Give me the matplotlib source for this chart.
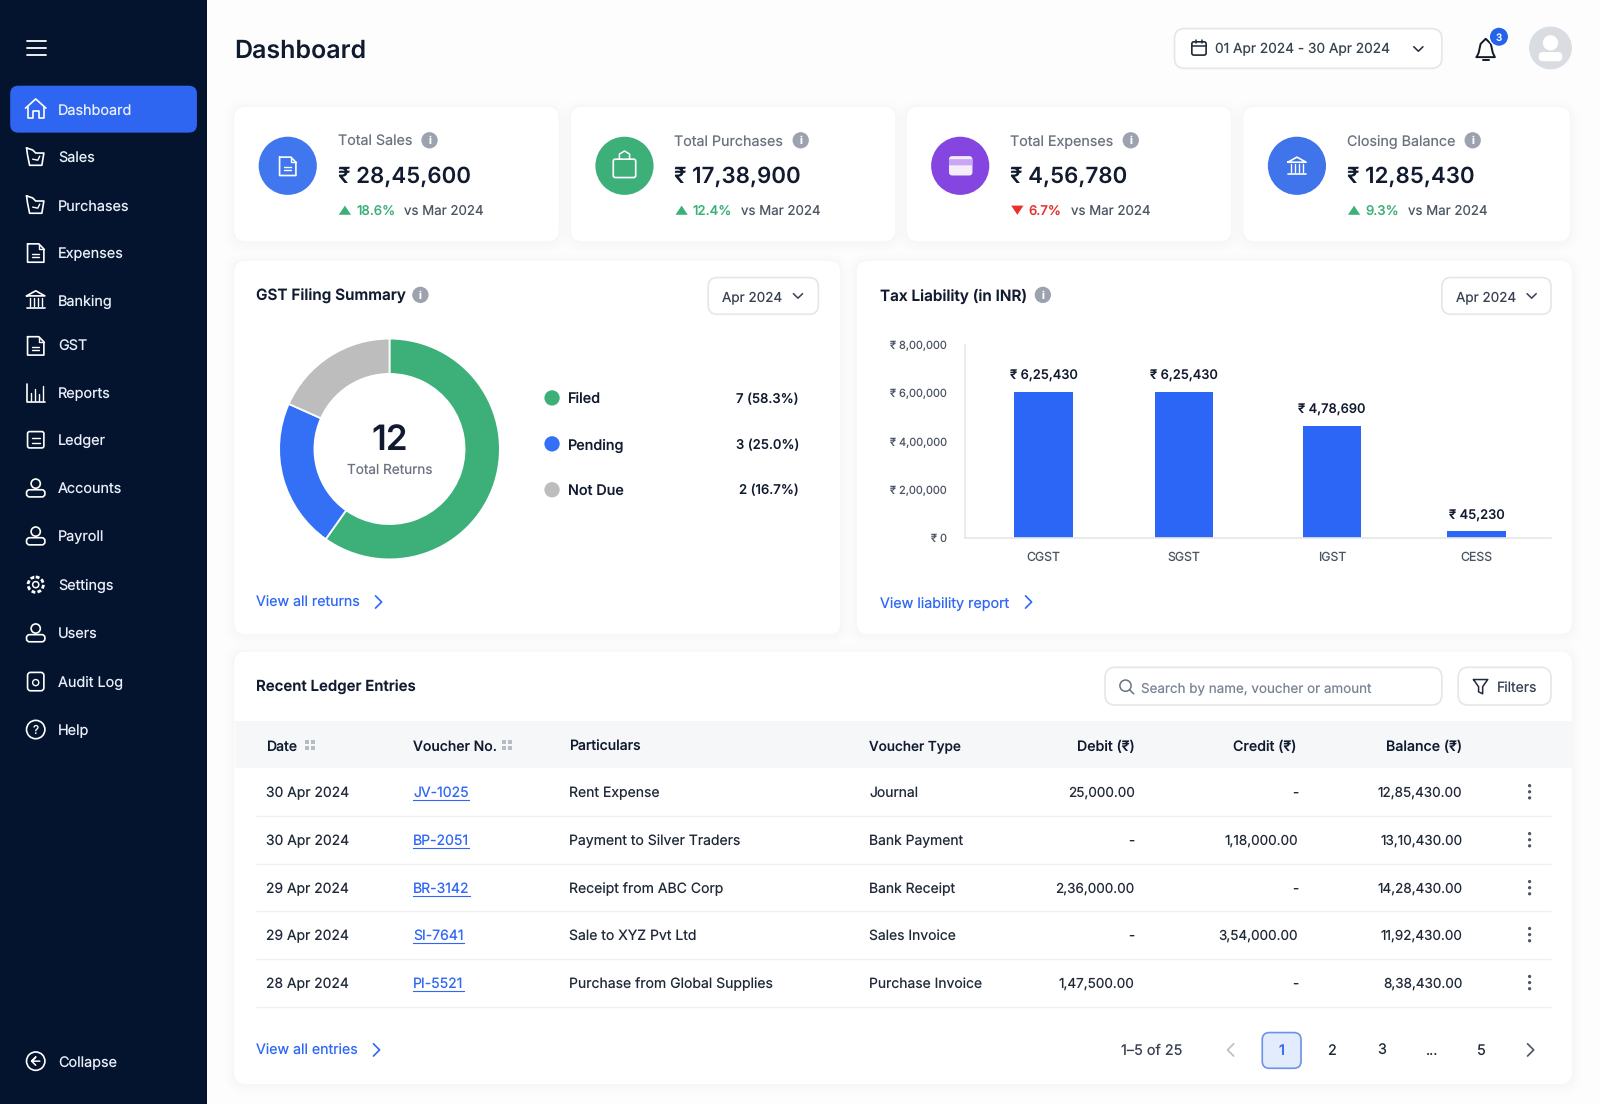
import matplotlib
matplotlib.use("Agg")
import matplotlib.pyplot as plt
from matplotlib.patches import FancyBboxPatch, Circle, Rectangle, Polygon

plt.rcParams["font.family"] = ["Inter", "Noto Sans", "DejaVu Sans"]
plt.rcParams["text.hinting"] = "none"
plt.rcParams["text.hinting_factor"] = 1

# data
nav_items = ["Dashboard", "Sales", "Purchases", "Expenses", "Banking", "GST", "Reports",
             "Ledger", "Accounts", "Payroll", "Settings", "Users", "Audit Log", "Help"]
kpi_titles = ["Total Sales", "Total Purchases", "Total Expenses", "Closing Balance"]
kpi_values = ["₹ 28,45,600", "₹ 17,38,900", "₹ 4,56,780", "₹ 12,85,430"]
kpi_deltas = ["18.6%", "12.4%", "6.7%", "9.3%"]
kpi_up = [True, True, False, True]

gst_labels = ["Filed", "Pending", "Not Due"]
gst_shares = [59.8, 21.9, 18.3]  # slice sizes as drawn in the picture
gst_text = ["7 (58.3%)", "3 (25.0%)", "2 (16.7%)"]

tax_names = ["CGST", "SGST", "IGST", "CESS"]
tax_heights = [606000, 606000, 465000, 29000]  # as drawn in the picture
tax_labels = ["₹ 6,25,430", "₹ 6,25,430", "₹ 4,78,690", "₹ 45,230"]
tax_ticks = [0, 200000, 400000, 600000, 800000]
tax_ticklabels = ["₹ 0", "₹ 2,00,000", "₹ 4,00,000", "₹ 6,00,000", "₹ 8,00,000"]

dates = ["30 Apr 2024", "30 Apr 2024", "29 Apr 2024", "29 Apr 2024", "28 Apr 2024"]
vouchers = ["JV-1025", "BP-2051", "BR-3142", "SI-7641", "PI-5521"]
particulars = ["Rent Expense", "Payment to Silver Traders", "Receipt from ABC Corp",
               "Sale to XYZ Pvt Ltd", "Purchase from Global Supplies"]
voucher_types = ["Journal", "Bank Payment", "Bank Receipt", "Sales Invoice", "Purchase Invoice"]
debits = ["25,000.00", "-", "2,36,000.00", "-", "1,47,500.00"]
credits = ["-", "1,18,000.00", "-", "3,54,000.00", "-"]
balances = ["12,85,430.00", "13,10,430.00", "14,28,430.00", "11,92,430.00", "8,38,430.00"]

NAVY = "#04142F"
BLUE = "#2F68F5"
GREEN = "#3DB07A"
GREY = "#BDBDBD"
INK = "#111A2E"
MUTED = "#6B7280"
LINE = "#E3E6EB"
W, H = 1568, 1082

fig = plt.figure(figsize=(16, 11.04), dpi=100, facecolor="#FDFDFE")
ui = fig.add_axes([0, 0, 1, 1])
ui.set_xlim(0, W)
ui.set_ylim(H, 0)
ui.axis("off")


def px(size):
    return size * 0.72


def label(x, y, s, size=14, color=INK, weight="normal", ha="left", z=5):
    return ui.text(x, y, s, fontsize=px(size), color=color, fontweight=weight, ha=ha,
                   va="center_baseline", zorder=z)


def text_width(t):
    return t.get_window_extent(fig.canvas.get_renderer()).width * W / 1600


def box(x0, y0, x1, y1, r=8, fc="white", ec="none", lw=1.0, z=2, alpha=None):
    p = FancyBboxPatch((x0, y0), x1 - x0, y1 - y0, boxstyle=f"round,pad=0,rounding_size={r}",
                       fc=fc, ec=ec, lw=lw, zorder=z, alpha=alpha)
    ui.add_patch(p)
    return p


def card(x0, y0, x1, y1):
    for g in [9, 7, 5, 3, 1.5]:
        box(x0 - g, y0 - g + 2, x1 + g, y1 + g + 2, r=12 + g, fc="#1B2A4A", alpha=0.005, z=1)
    box(x0, y0, x1, y1, r=12, fc="white", ec="#F5F6F8", lw=0.7, z=2)


def stroke(xs, ys, color="white", lw=1.2, z=6):
    ui.plot(xs, ys, color=color, lw=lw, zorder=z, solid_capstyle="round", solid_joinstyle="round")


def chevron_down(x, y, color="#374151"):
    stroke([x - 4.5, x, x + 4.5], [y - 2.2, y + 2.2, y - 2.2], color, 1.1)


def chevron_right(x, y, color=BLUE):
    stroke([x - 3, x + 3, x - 3], [y - 6, y, y + 6], color, 1.2)


def info(x, y):
    ui.add_patch(Circle((x, y), 8, fc="#9CA3AF", ec="none", zorder=5))
    label(x, y, "i", 10.5, "white", "bold", "center", 6)


def icon_house(x, y, c="white"):
    stroke([x - 10, x, x + 10], [y - 1, y - 10, y - 1], c)
    stroke([x - 8, x - 8, x - 3, x - 3, x + 3, x + 3, x + 8, x + 8],
           [y - 2, y + 9, y + 9, y + 2, y + 2, y + 9, y + 9, y - 2], c)


def icon_cart(x, y, c="white"):
    stroke([x - 9, x - 3, x, x + 8, x + 6, x - 6, x - 8, x - 9],
           [y - 9, y - 7, y - 4, y - 4, y + 8, y + 8, y - 2, y - 9], c)
    stroke([x - 3, x + 2, x + 4], [y + 2, y + 3, y - 1], c, 1.0)


def icon_doc(x, y, c="white"):
    stroke([x - 8, x + 3, x + 8, x + 8, x - 8, x - 8],
           [y - 9, y - 9, y - 4, y + 9, y + 9, y - 9], c)
    stroke([x + 3, x + 3, x + 8], [y - 9, y - 4, y - 4], c, 1.0)
    stroke([x - 4, x + 3], [y + 1, y + 1], c, 1.0)
    stroke([x - 4, x + 3], [y + 4, y + 4], c, 1.0)


def icon_bank(x, y, c="white"):
    stroke([x - 9, x, x + 9, x - 9], [y - 4, y - 9, y - 4, y - 4], c)
    for dx in [-6, -2, 2, 6]:
        stroke([x + dx, x + dx], [y - 2, y + 6], c, 1.0)
    stroke([x - 9, x + 9], [y + 8, y + 8], c)


def icon_reports(x, y, c="white"):
    stroke([x - 9, x - 9, x + 9], [y - 9, y + 9, y + 9], c)
    for dx, top in [(-5, 0), (-1, -4), (3, 1), (7, -7)]:
        stroke([x + dx, x + dx], [y + 8, y + top], c, 1.0)


def icon_ledger(x, y, c="white"):
    box(x - 8, y - 8, x + 8, y + 8, r=2, fc="none", ec=c, lw=1.2, z=6)
    stroke([x - 4, x + 4], [y - 2, y - 2], c, 1.0)
    stroke([x - 4, x + 4], [y + 3, y + 3], c, 1.0)


def icon_people(x, y, c="white"):
    ui.add_patch(Circle((x, y - 4), 4.5, fc="none", ec=c, lw=1.2, zorder=6))
    box(x - 9, y + 2, x + 9, y + 9, r=3, fc="none", ec=c, lw=1.2, z=6)


def icon_gear(x, y, c="white"):
    ui.add_patch(Circle((x, y), 7.5, fc="none", ec=c, lw=2.0, ls=(0, (1.4, 0.8)), zorder=6))
    ui.add_patch(Circle((x, y), 3, fc="none", ec=c, lw=1.1, zorder=6))


def icon_help(x, y, c="white"):
    ui.add_patch(Circle((x, y), 9, fc="none", ec=c, lw=1.2, zorder=6))
    label(x, y, "?", 12, c, "normal", "center", 6)


def icon_audit(x, y, c="white"):
    box(x - 8, y - 9, x + 8, y + 9, r=3, fc="none", ec=c, lw=1.2, z=6)
    ui.add_patch(Circle((x, y + 1), 3, fc="none", ec=c, lw=1.0, zorder=6))


# sidebar
ui.add_patch(Rectangle((0, 0), 203, H, fc=NAVY, ec="none", zorder=1))
for yy in [40.5, 47, 53.5]:
    stroke([26, 45], [yy, yy], "white", 1.3)
box(10, 84, 193, 130, r=8, fc="#2E66F2", z=2)

nav_y = [107, 154, 201, 248, 294, 339, 385, 431, 478, 525, 573, 620, 668, 715]
nav_icons = [icon_house, icon_cart, icon_cart, icon_doc, icon_bank, icon_doc, icon_reports,
             icon_ledger, icon_people, icon_people, icon_gear, icon_people, icon_audit, icon_help]
for name, yy, draw in zip(nav_items, nav_y, nav_icons):
    draw(35, yy)
    label(57, yy, name, 14.4, "#EAF0FA", "normal")
ui.add_patch(Circle((35, 1040), 9, fc="none", ec="white", lw=1.2, zorder=6))
stroke([39, 31, 35, 31, 35], [1040, 1040, 1036, 1040, 1044], "white", 1.1)
label(57, 1040, "Collapse", 14.4, "#EAF0FA", "normal")

# header
label(229, 48, "Dashboard", 25, INK, "semibold")
box(1151, 28, 1413, 67, r=10, fc="white", ec=LINE, lw=1.2)
box(1168, 41, 1182, 54, r=2, fc="none", ec="#1F2937", lw=1.2, z=6)
stroke([1168, 1182], [45, 45], "#1F2937", 1.1)
stroke([1172, 1172], [39, 42], "#1F2937", 1.1)
stroke([1178, 1178], [39, 42], "#1F2937", 1.1)
label(1191, 47, "01 Apr 2024 - 30 Apr 2024", 13.7, "#374151")
chevron_down(1390, 48, "#1F2937")
stroke([1447, 1449, 1451, 1456, 1461, 1463, 1465, 1447],
       [56, 52, 43, 38, 43, 52, 56, 56], "#111827", 1.4)
stroke([1453, 1459], [59, 59], "#111827", 1.4)
ui.add_patch(Circle((1469, 36), 9.5, fc="#2563EB", ec="white", lw=1, zorder=7))
label(1469, 36, "3", 10, "white", "medium", "center", 8)
ui.add_patch(Circle((1519.5, 47), 21, fc="#D9DCE0", ec="none", zorder=3))
ui.add_patch(Circle((1519.5, 42), 7.5, fc="white", ec="none", zorder=4))
box(1508, 51, 1531, 60, r=4, fc="white", z=4)

# kpi cards
kpi_x = [229, 559, 888, 1218]
kpi_right = [548, 878, 1207, 1539]
kpi_circle = ["#4177EE", GREEN, "#8445E0", "#3F74EA"]
for i in range(4):
    x0 = kpi_x[i]
    card(x0, 104, kpi_right[i], 237)
    cx = x0 + 53
    ui.add_patch(Circle((cx, 162.5), 28.5, fc=kpi_circle[i], ec="none", zorder=3))
    tx = x0 + 102
    t = label(tx, 137.5, kpi_titles[i], 14.3, MUTED)
    info(tx + text_width(t) + 17, 137.5)
    label(tx, 171, kpi_values[i], 22.3, INK, "semibold")
    col = GREEN if kpi_up[i] else "#E5322D"
    if kpi_up[i]:
        ui.add_patch(Polygon([(tx + 1, 210.5), (tx + 13, 210.5), (tx + 7, 201.5)], fc=col, ec="none", zorder=5))
    else:
        ui.add_patch(Polygon([(tx + 1, 201.5), (tx + 13, 201.5), (tx + 7, 210.5)], fc=col, ec="none", zorder=5))
    d = label(tx + 18, 205.5, kpi_deltas[i], 13.2, col, "medium")
    label(tx + 18 + text_width(d) + 9, 205.5, "vs Mar 2024", 13.3, "#4B5563")

# small glyphs inside the kpi circles
icon_doc(282, 163)
box(601, 156, 623, 174, r=2, fc="none", ec="white", lw=1.2, z=6)
stroke([607, 607, 612, 617, 617], [156, 151, 148, 151, 156], "white", 1.1)
box(930, 153, 953, 172, r=3, fc="white", alpha=0.9, z=6)
box(930, 156, 953, 162, r=1, fc="#C9A6F5", z=7)
icon_bank(1271, 163)

# gst panel
card(229, 255, 824, 622)
label(251, 289, "GST Filing Summary", 15.3, INK, "semibold")
info(412, 289)
box(694, 272, 802, 308, r=9, fc="white", ec=LINE, lw=1.2)
label(708, 290, "Apr 2024", 13.5, "#374151")
chevron_down(782, 290)
label(251, 590, "View all returns", 14.2, BLUE)
chevron_right(371, 590)

gst_colors = [GREEN, "#3370F5", GREY]
legend_y = [390, 435, 480]
for name, txt, c, yy in zip(gst_labels, gst_text, gst_colors, legend_y):
    ui.add_patch(Circle((541, yy), 7.5, fc=c, ec="none", zorder=5))
    label(557, yy, name, 14.4, INK, "medium")
    label(783, yy, txt, 13.2, INK, "medium", "right")

# donut, real axes
donut = fig.add_axes([(389.5 - 111.5) / 1600, 1 - (449 + 111.5) / 1104, 223 / 1600, 223 / 1104])
donut.pie(gst_shares, colors=gst_colors, startangle=90, counterclock=False, radius=1.0,
          wedgeprops=dict(width=0.32, edgecolor="white", linewidth=1.3))
donut.set_xlim(-1.01, 1.01)
donut.set_ylim(-1.01, 1.01)
donut.patch.set_alpha(0)
donut.text(0, 0.07, "12", ha="center", va="center", fontsize=px(35), fontweight="semibold", color=INK)
donut.text(0, -0.19, "Total Returns", ha="center", va="center", fontsize=px(13.6), color=MUTED)

# tax panel
card(839, 255, 1541, 622)
label(862, 289, "Tax Liability (in INR)", 15.3, INK, "semibold")
info(1022, 289)
box(1413, 272, 1520, 308, r=9, fc="white", ec=LINE, lw=1.2)
label(1427, 290, "Apr 2024", 13.5, "#374151")
chevron_down(1501, 290)
label(862, 590, "View liability report", 14.3, BLUE)
chevron_right(1008, 590)

bars = fig.add_axes([965 / 1600, 1 - 538 / 1104, (1551 - 965) / 1600, (538 - 345) / 1104])
bar_x = [0, 0.974, 2, 3]
bars.bar(bar_x, tax_heights, width=0.405, color="#2C66F6")
bars.set_xlim(-0.544, 3.517)
bars.set_ylim(0, 800000)
bars.patch.set_alpha(0)
bars.set_xticks(bar_x, tax_names)
bars.set_yticks(tax_ticks, tax_ticklabels)
bars.tick_params(axis="x", length=0, pad=10, labelsize=px(12.3), labelcolor="#4B5563")
bars.tick_params(axis="y", length=0, pad=13, labelsize=px(11), labelcolor="#4B5563")
for s in ["top", "right"]:
    bars.spines[s].set_visible(False)
for s in ["left", "bottom"]:
    bars.spines[s].set_color("#E5E7EB")
    bars.spines[s].set_linewidth(1.2)
for xx, h, txt in zip(bar_x, tax_heights, tax_labels):
    bars.annotate(txt, (xx, h), xytext=(0, 11), textcoords="offset points", ha="center",
                  va="center", fontsize=px(13), color=INK, fontweight="medium", annotation_clip=False)

# ledger table
card(229, 638, 1541, 1063)
label(251, 671, "Recent Ledger Entries", 15, INK, "semibold")
box(1083, 654, 1413, 691, r=10, fc="white", ec=LINE, lw=1.2)
ui.add_patch(Circle((1103, 672), 5.5, fc="none", ec="#6B7280", lw=1.1, zorder=6))
stroke([1107, 1111], [676, 680], "#6B7280", 1.1)
label(1118, 673, "Search by name, voucher or amount", 13.4, "#7B8494")
box(1429, 654, 1520, 691, r=10, fc="white", ec=LINE, lw=1.2)
stroke([1444, 1458, 1453, 1453, 1449, 1449, 1444], [666, 666, 673, 680, 678, 673, 666], "#1F2937", 1.1)
label(1467, 673, "Filters", 14, "#374151")

ui.add_patch(Rectangle((230, 707), 1311, 46, fc="#F5F7F9", ec="none", zorder=3))
head_y = 730.5
label(261, head_y, "Date", 14, INK, "medium")
label(405, head_y, "Voucher No.", 14, INK, "medium")
label(558, head_y, "Particulars", 14, INK, "medium")
label(852, head_y, "Voucher Type", 13.6, INK, "medium")
label(1112, head_y, "Debit (₹)", 14.2, INK, "medium", "right")
label(1271, head_y, "Credit (₹)", 14.2, INK, "medium", "right")
label(1433, head_y, "Balance (₹)", 14.2, INK, "medium", "right")
for sx in [304, 497]:
    for dx, dy in [(-3, -3), (3, -3), (-3, 3), (3, 3)]:
        ui.plot([sx + dx], [head_y + dy], marker="s", ms=2.4, color="#B6BCC6", mew=0, zorder=5)

row_y = [776, 823, 870, 916, 963]
sep_y = [800, 847, 893, 940, 987]
for i, yy in enumerate(row_y):
    label(261, yy, dates[i], 13.9, "#1F2937")
    v = label(405, yy, vouchers[i], 14, BLUE)
    ui.plot([405, 405 + text_width(v)], [yy + 8, yy + 8], color=BLUE, lw=0.8, zorder=5)
    label(558, yy, particulars[i], 14, "#1F2937")
    label(852, yy, voucher_types[i], 13.9, "#1F2937")
    label(1112, yy, debits[i], 13.5, "#1F2937", ha="right")
    label(1272, yy, credits[i], 13.5, "#1F2937", ha="right")
    label(1433, yy, balances[i], 13.5, "#1F2937", ha="right")
    for dy in [-6, 0, 6]:
        ui.add_patch(Circle((1499, yy + dy), 1.6, fc="#4B5563", ec="none", zorder=5))
    ui.plot([251, 1520], [sep_y[i], sep_y[i]], color="#EDEFF2", lw=1, zorder=3, solid_capstyle="butt")

label(251, 1029, "View all entries", 14.2, BLUE)
chevron_right(369, 1029)
label(1159, 1029, "1–5 of 25", 14.4, "#374151", ha="right")
stroke([1209, 1203, 1209], [1023, 1029, 1035], "#B9BEC7", 1.2)
box(1237, 1012, 1275, 1047, r=7, fc="#E3ECFC", ec="#6E92E8", lw=1.2, z=3)
label(1256, 1029, "1", 14.4, BLUE, "medium", "center")
for xx, s in zip([1305, 1354, 1403, 1451], ["2", "3", "...", "5"]):
    label(xx, 1029, s, 14.4, "#1F2937", ha="center")
chevron_right(1500, 1029, "#4B5563")

fig.savefig("out.png", dpi=100, facecolor=fig.get_facecolor())
